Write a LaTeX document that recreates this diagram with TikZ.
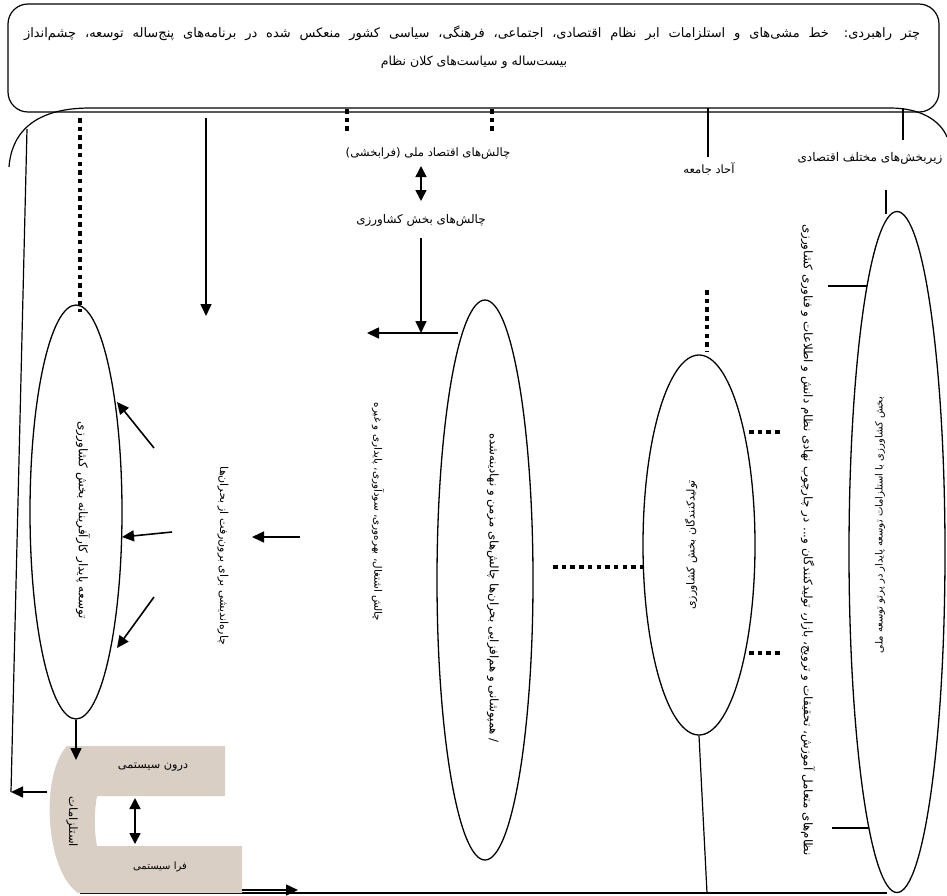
\documentclass[tikz,border=0pt]{standalone}
\usepackage{fontspec}
\TeXXeTstate=1
\newfontfamily\fa[Script=Arabic]{DejaVu Sans}
\usetikzlibrary{arrows.meta,shapes.geometric}
\definecolor{beige}{RGB}{217,207,197}
\newcommand\fsz[1]{\fa\fontsize{#1}{#1}\selectfont}
\begin{document}
\begin{tikzpicture}[x=1pt,y=-1pt,line width=1.2pt,
  tri/.style={line width=1.6pt,-{Triangle[length=12pt,width=11pt]}},
  dtri/.style={line width=1.6pt,{Triangle[length=11pt,width=11pt]}-{Triangle[length=11pt,width=11pt]}},
  sq/.style={line width=4.5pt,dash pattern=on 4.5pt off 4.2pt},
  ell/.style={draw,ellipse,inner sep=0pt,line width=1.3pt},
  lbl/.style={inner sep=0pt},
]
\useasboundingbox (0,0) rectangle (947,895);
% top box
\node[draw,rounded corners=20pt,minimum width=931pt,minimum height=108pt,inner sep=0pt] (top) at (473.5,58) {};
\node[lbl,font=\fsz{13}] (t1) at (472,33) {\hbox to 896pt{\beginR چتر راهبردی: خط مشی^^^^200cهای و استلزامات ابر نظام اقتصادی، اجتماعی، فرهنگی، سیاسی کشور منعکس شده در برنامه^^^^200cهای پنج^^^^200cساله توسعه، چشم^^^^200cانداز\endR}};
\node[lbl,font=\fsz{12.5}] (t2) at (474,62) {\beginR بیست^^^^200cساله و سیاست^^^^200cهای کلان نظام\endR};
% frame
\draw (9,167) .. controls (12,128) and (40,108) .. (90,108) -- (890,108) .. controls (920,108) and (940,120) .. (947,137);
\draw (80,893) -- (887,893);
% left line
\coordinate (fl) at (27,129);
\coordinate (lt) at (11,792);
\draw (fl) -- (lt);
% ellipses
\node[ell,minimum width=92pt,minimum height=414pt] (E1) at (76,512) {};
\node[ell,minimum width=96pt,minimum height=560pt] (E2) at (485,580) {};
\node[ell,minimum width=112pt,minimum height=380pt] (E3) at (699,545) {};
\node[ell,minimum width=96pt,minimum height=681pt] (E4) at (897,552) {};
% dotted from top
\coordinate (d1a) at (80,118); \coordinate (d1b) at (80,312);
\draw[sq] (d1a) -- (d1b);
\coordinate (d2a) at (347,109); \coordinate (d2b) at (347,134);
\draw[sq] (d2a) -- (d2b);
\coordinate (d3a) at (492,109); \coordinate (d3b) at (492,134);
\draw[sq] (d3a) -- (d3b);
% arrow from top
\coordinate (a1a) at (206,118); \coordinate (a1b) at (206,316);
\draw[tri] (a1a) -- (a1b);
% national challenges
\node[lbl,font=\fsz{11.6}] (nat) at (428,154) {\beginR چالش^^^^200cهای اقتصاد ملی (فرابخشی)\endR};
\node[lbl,font=\fsz{11.9}] (agr) at (421,220) {\beginR چالش^^^^200cهای بخش کشاورزی\endR};
\coordinate (da) at (421,166); \coordinate (db) at (421,201);
\draw[dtri] (da) -- (db);
\coordinate (a2a) at (421,238); \coordinate (a2b) at (421,333);
\draw[tri] (a2a) -- (a2b);
\coordinate (h1a) at (458,333); \coordinate (h1b) at (367,333);
\draw[tri] (h1a) -- (h1b);
% community
\coordinate (c1) at (708,108); \coordinate (c2) at (708,157);
\draw (c1) -- (c2);
\node[lbl,font=\fsz{11.5}] (com) at (709,169) {\beginR آحاد جامعه\endR};
\coordinate (p1) at (707,290); \coordinate (p2) at (707,352);
\draw[sq] (p1) -- (p2);
% subsectors
\coordinate (s1) at (903,108); \coordinate (s2) at (903,140);
\draw (s1) -- (s2);
\node[lbl,font=\fsz{12}] (sub) at (870,158) {\beginR زیربخش^^^^200cهای مختلف اقتصادی\endR};
\coordinate (s3) at (886,190);
\draw (s3) -- (886,214);
% right ellipse side lines
\coordinate (r1) at (828,286); \draw (r1) -- (867,286);
\coordinate (r2) at (832,828); \draw (r2) -- (869,828);
% producer lines
\coordinate (pb) at (707,893);
\draw (E3.south) -- (pb);
\coordinate (hd) at (553,567);
\draw[sq] (hd) -- (643.5,567);
\coordinate (q1) at (749,432); \draw[sq] (q1) -- (780,432);
\coordinate (q2) at (749,653); \draw[sq] (q2) -- (780,653);
% arrows to left ellipse
\coordinate (w1) at (154,448); \coordinate (w1t) at (117,402);
\draw[tri] (w1) -- (w1t);
\coordinate (w2) at (172,532); \coordinate (w2t) at (122,537);
\draw[tri] (w2) -- (w2t);
\coordinate (w3) at (154,597); \coordinate (w3t) at (117,648);
\draw[tri] (w3) -- (w3t);
\coordinate (w4) at (300,537); \coordinate (w4t) at (252,537);
\draw[tri] (w4) -- (w4t);
% rotated labels
\node[lbl,rotate=-90,font=\fsz{12}] (e1t) at (83,520) {\beginR توسعه پایدار کارآفرینانه بخش کشاورزی\endR};
\node[lbl,rotate=-90,font=\fsz{11}] (ft) at (223,556) {\beginR چاره^^^^200cاندیشی برای برون^^^^200cرفت از بحران^^^^200cها\endR};
\node[lbl,rotate=-90,font=\fsz{10.4}] (gt) at (378,512) {\beginR چالش اشتغال، بهره^^^^200cوری، سودآوری، پایداری و غیره\endR};
\node[lbl,rotate=-90,font=\fsz{11.8}] (e2t) at (493,588) {\beginR / همپوشانی و هم^^^^200cافزایی بحران^^^^200cها چالش^^^^200cهای مزمن و نهادینه^^^^200cشده\endR};
\node[lbl,rotate=90,font=\fsz{11}] (e3t) at (691,545) {\beginR تولیدکنندگان بخش کشاورزی\endR};
\node[lbl,rotate=-90,font=\fsz{11.9}] (jt) at (808,540) {\beginR نظام^^^^200cهای متعامل آموزش، تحقیقات و ترویج، بازار، تولیدکنندگان و... در چارچوب نهادی نظام دانش و اطلاعات و فناوری کشاورزی\endR};
\node[lbl,rotate=90,font=\fsz{10}] (e4t) at (880,525) {\beginR بخش کشاورزی با استلزامات توسعه پایدار در پرتو توسعه ملی\endR};
% C shape
\fill[beige] (67,746) -- (225,746) -- (225,796) -- (97,796) .. controls (94,813) and (94,829) .. (97,846) -- (242,846) -- (242,893) -- (78,893) .. controls (45,870) and (40,775) .. (67,746) -- cycle;
\node[lbl,font=\fsz{11.3}] (in) at (153,767) {\beginR درون سیستمی\endR};
\node[lbl,font=\fsz{10}] (out) at (160,867) {\beginR فرا سیستمی\endR};
\node[lbl,rotate=-90,font=\fsz{11.5}] (req) at (72,822) {\beginR استلزامات\endR};
\coordinate (ce) at (135,798); \coordinate (ce2) at (135,844);
\draw[dtri] (ce) -- (ce2);
\coordinate (et) at (76,760);
\draw[tri] (E1.south) -- (et);
\coordinate (cl) at (47,792);
\draw[tri] (cl) -- (lt);
\coordinate (b1) at (242,890); \coordinate (b2) at (298,890);
\draw[tri] (b1) -- (b2);
\end{tikzpicture}
\end{document}
